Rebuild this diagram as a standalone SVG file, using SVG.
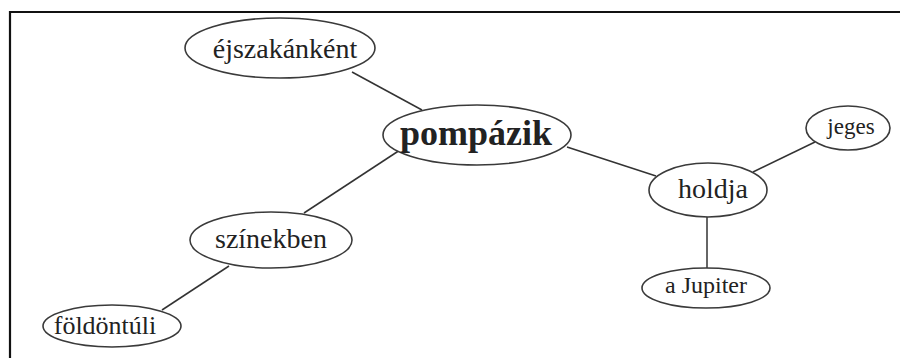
<svg xmlns="http://www.w3.org/2000/svg" width="900" height="358" viewBox="0 0 900 358">
<style>
.n ellipse{fill:#fff;stroke:#3a3a3a;stroke-width:1.6}
.n text{font-family:"Liberation Serif","Times New Roman",serif;fill:#222;text-anchor:middle}
.e line{stroke:#333;stroke-width:1.5}
</style>
<rect width="900" height="358" fill="#fff"/>
<path d="M10 358 V12 H900" fill="none" stroke="#111" stroke-width="2.2"/>
<g id="connectors" class="e">
<line x1="352" y1="72" x2="422" y2="110"/>
<line x1="400" y1="150" x2="304" y2="213"/>
<line x1="567" y1="147" x2="656" y2="176"/>
<line x1="753" y1="172" x2="815" y2="142"/>
<line x1="707" y1="217" x2="707" y2="268"/>
<line x1="229" y1="266" x2="162" y2="310"/>
</g>
<g id="ejszakankent" class="n"><ellipse cx="280" cy="48" rx="95" ry="30"/><text x="285" y="58" font-size="28">éjszakánként</text></g>
<g id="pompazik" class="n"><ellipse cx="477" cy="135" rx="94" ry="30"/><text x="476" y="145" font-size="36" font-weight="bold">pompázik</text></g>
<g id="jeges" class="n"><ellipse cx="848" cy="128" rx="42" ry="22"/><text x="851" y="134" font-size="23">jeges</text></g>
<g id="holdja" class="n"><ellipse cx="708" cy="190" rx="59" ry="27"/><text x="713" y="198" font-size="28">holdja</text></g>
<g id="jupiter" class="n"><ellipse cx="706" cy="288" rx="64" ry="20"/><text x="706" y="293" font-size="24">a Jupiter</text></g>
<g id="szinekben" class="n"><ellipse cx="271" cy="240" rx="81" ry="28"/><text x="271" y="248" font-size="28">színekben</text></g>
<g id="foldontuli" class="n"><ellipse cx="112" cy="326" rx="69" ry="21"/><text x="105" y="334" font-size="26">földöntúli</text></g>
</svg>
